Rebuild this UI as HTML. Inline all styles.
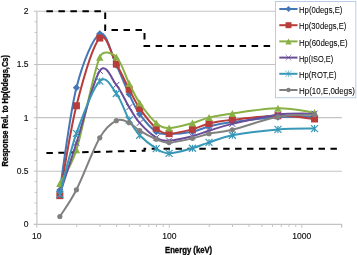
<!DOCTYPE html>
<html><head><meta charset="utf-8"><style>
html,body{margin:0;padding:0;background:#fff;}
body{width:357px;height:255px;overflow:hidden;position:relative;}
svg{position:absolute;left:0;top:0;will-change:transform;}
.s{font-family:"Liberation Serif",serif;font-size:9px;fill:#000;}
.a{font-family:"Liberation Sans",sans-serif;}
.n{font-family:"Liberation Sans",sans-serif;font-size:8.5px;fill:#111;stroke:#111;stroke-width:0.15px;}
</style></head><body>
<svg width="357" height="255" viewBox="0 0 357 255">
<rect width="357" height="255" fill="#fff"/>

<path d="M36.8,171.20H341.8" stroke="#C3C3C3" stroke-width="1.1"/>
<path d="M36.8,117.60H341.8" stroke="#C3C3C3" stroke-width="1.1"/>
<path d="M36.8,64.50H341.8" stroke="#C3C3C3" stroke-width="1.1"/>
<path d="M36.8,11.20H341.8" stroke="#C3C3C3" stroke-width="1.1"/>
<path d="M36.9,11.2V224.4" stroke="#C3C3C3" stroke-width="1.2"/>
<path d="M33.8,224.4H341.8" stroke="#C3C3C3" stroke-width="1.1"/>
<path d="M33.8,224.36H36.9 M34.6,213.70H36.9 M34.6,203.04H36.9 M34.6,192.38H36.9 M34.6,181.72H36.9 M33.8,171.06H36.9 M34.6,160.40H36.9 M34.6,149.74H36.9 M34.6,139.08H36.9 M34.6,128.42H36.9 M33.8,117.76H36.9 M34.6,107.10H36.9 M34.6,96.44H36.9 M34.6,85.78H36.9 M34.6,75.12H36.9 M33.8,64.46H36.9 M34.6,53.80H36.9 M34.6,43.14H36.9 M34.6,32.48H36.9 M34.6,21.82H36.9 M33.8,11.16H36.9 M36.80,224.4V227.8 M76.69,224.4V227.0 M100.02,224.4V227.0 M116.57,224.4V227.0 M129.41,224.4V227.0 M139.91,224.4V227.0 M148.78,224.4V227.0 M156.46,224.4V227.0 M163.24,224.4V227.0 M169.30,224.4V227.8 M209.19,224.4V227.0 M232.52,224.4V227.0 M249.07,224.4V227.0 M261.91,224.4V227.0 M272.41,224.4V227.0 M281.28,224.4V227.0 M288.96,224.4V227.0 M295.74,224.4V227.0 M301.80,224.4V227.8 M341.69,224.4V227.0 M341.69,224.4V227.8" stroke="#C3C3C3" stroke-width="1"/>
<text class="n" x="28.6" y="227.3" text-anchor="end">0</text>
<text class="n" x="28.6" y="174.1" text-anchor="end">0.5</text>
<text class="n" x="28.6" y="120.5" text-anchor="end">1</text>
<text class="n" x="28.6" y="67.4" text-anchor="end">1.5</text>
<text class="n" x="28.6" y="14.1" text-anchor="end">2</text>
<text class="n" x="36.8" y="239.2" text-anchor="middle">10</text>
<text class="n" x="169.3" y="239.2" text-anchor="middle">100</text>
<text class="n" x="301.8" y="239.2" text-anchor="middle">1000</text>
<path d="M46.4,11.2H105.2V30.1H144.5V46.0H300" stroke="#000" stroke-width="2" fill="none" stroke-dasharray="6.5,5.5"/>
<path d="M46.4,153.1L144.5,150.7V148.7H337" stroke="#000" stroke-width="2" fill="none" stroke-dasharray="6.45,5.47"/>
<path d="M59.85,190.00 C62.61,172.94 69.76,113.69 76.42,87.65 C83.07,61.61 93.11,37.51 99.77,33.77 C106.42,30.02 111.43,55.10 116.33,65.18 C121.24,75.26 125.29,86.11 129.18,94.26 C133.08,102.40 135.17,107.82 139.68,114.07 C144.19,120.31 151.35,128.43 156.25,131.75 C161.15,135.06 163.07,133.98 169.10,133.98 C175.13,133.98 185.80,133.01 192.45,131.75 C199.10,130.48 202.36,128.05 209.02,126.42 C215.67,124.79 220.88,123.49 232.37,121.95 C243.85,120.40 264.25,118.01 277.95,117.15 C291.64,116.30 308.45,116.89 314.55,116.84" stroke="#4377B7" stroke-width="2" fill="none"/>
<path d="M59.85,186.40L63.45,190.00L59.85,193.60L56.25,190.00Z" fill="#4377B7"/>
<path d="M76.42,84.05L80.02,87.65L76.42,91.25L72.82,87.65Z" fill="#4377B7"/>
<path d="M99.77,30.17L103.37,33.77L99.77,37.37L96.17,33.77Z" fill="#4377B7"/>
<path d="M116.33,61.58L119.93,65.18L116.33,68.78L112.73,65.18Z" fill="#4377B7"/>
<path d="M129.18,90.66L132.78,94.26L129.18,97.86L125.58,94.26Z" fill="#4377B7"/>
<path d="M139.68,110.47L143.28,114.07L139.68,117.67L136.08,114.07Z" fill="#4377B7"/>
<path d="M156.25,128.15L159.85,131.75L156.25,135.34L152.65,131.75Z" fill="#4377B7"/>
<path d="M169.10,130.38L172.70,133.98L169.10,137.58L165.50,133.98Z" fill="#4377B7"/>
<path d="M192.45,128.15L196.05,131.75L192.45,135.34L188.85,131.75Z" fill="#4377B7"/>
<path d="M209.02,122.82L212.62,126.42L209.02,130.02L205.42,126.42Z" fill="#4377B7"/>
<path d="M232.37,118.35L235.97,121.95L232.37,125.55L228.77,121.95Z" fill="#4377B7"/>
<path d="M277.95,113.55L281.55,117.15L277.95,120.75L274.35,117.15Z" fill="#4377B7"/>
<path d="M314.55,113.24L318.15,116.84L314.55,120.44L310.95,116.84Z" fill="#4377B7"/>
<path d="M59.85,195.65 C62.61,180.66 69.76,132.03 76.42,105.76 C83.07,79.49 93.11,44.97 99.77,38.03 C106.42,31.08 111.43,55.56 116.33,64.12 C121.24,72.67 125.29,81.99 129.18,89.36 C133.08,96.72 135.17,101.84 139.68,108.31 C144.19,114.79 151.35,124.02 156.25,128.23 C161.15,132.44 163.07,133.36 169.10,133.56 C175.13,133.75 185.80,131.09 192.45,129.40 C199.10,127.72 202.36,125.04 209.02,123.44 C215.67,121.84 220.88,121.10 232.37,119.82 C243.85,118.54 264.25,115.91 277.95,115.77 C291.64,115.63 308.45,118.43 314.55,118.97" stroke="#B83C3A" stroke-width="2" fill="none"/>
<rect x="56.35" y="192.15" width="7.00" height="7.00" fill="#B83C3A"/>
<rect x="72.92" y="102.26" width="7.00" height="7.00" fill="#B83C3A"/>
<rect x="96.27" y="34.53" width="7.00" height="7.00" fill="#B83C3A"/>
<rect x="112.83" y="60.62" width="7.00" height="7.00" fill="#B83C3A"/>
<rect x="125.68" y="85.86" width="7.00" height="7.00" fill="#B83C3A"/>
<rect x="136.18" y="104.81" width="7.00" height="7.00" fill="#B83C3A"/>
<rect x="152.75" y="124.73" width="7.00" height="7.00" fill="#B83C3A"/>
<rect x="165.60" y="130.06" width="7.00" height="7.00" fill="#B83C3A"/>
<rect x="188.95" y="125.90" width="7.00" height="7.00" fill="#B83C3A"/>
<rect x="205.52" y="119.94" width="7.00" height="7.00" fill="#B83C3A"/>
<rect x="228.87" y="116.32" width="7.00" height="7.00" fill="#B83C3A"/>
<rect x="274.45" y="112.27" width="7.00" height="7.00" fill="#B83C3A"/>
<rect x="311.05" y="115.47" width="7.00" height="7.00" fill="#B83C3A"/>
<path d="M59.85,183.40 C62.61,177.81 70.78,167.69 76.42,149.85 C83.07,128.82 93.11,72.69 99.77,57.19 C103.03,49.58 111.43,52.49 116.33,56.88 C121.24,61.26 125.29,75.81 129.18,83.50 C133.08,91.19 135.17,96.42 139.68,102.99 C144.19,109.56 151.35,118.73 156.25,122.91 C161.15,127.08 163.07,127.98 169.10,128.02 C175.13,128.05 185.80,124.86 192.45,123.12 C199.10,121.38 202.36,119.20 209.02,117.58 C215.67,115.97 220.88,114.99 232.37,113.43 C243.85,111.87 264.25,108.35 277.95,108.21 C291.64,108.07 308.45,111.85 314.55,112.58" stroke="#88B043" stroke-width="2" fill="none"/>
<path d="M59.85,179.90L63.55,186.90L56.15,186.90Z" fill="#88B043"/>
<path d="M76.42,146.35L80.12,153.35L72.72,153.35Z" fill="#88B043"/>
<path d="M99.77,53.69L103.47,60.69L96.07,60.69Z" fill="#88B043"/>
<path d="M116.33,53.38L120.03,60.38L112.63,60.38Z" fill="#88B043"/>
<path d="M129.18,80.00L132.88,87.00L125.48,87.00Z" fill="#88B043"/>
<path d="M139.68,99.49L143.38,106.49L135.98,106.49Z" fill="#88B043"/>
<path d="M156.25,119.41L159.95,126.41L152.55,126.41Z" fill="#88B043"/>
<path d="M169.10,124.52L172.80,131.52L165.40,131.52Z" fill="#88B043"/>
<path d="M192.45,119.62L196.15,126.62L188.75,126.62Z" fill="#88B043"/>
<path d="M209.02,114.08L212.72,121.08L205.32,121.08Z" fill="#88B043"/>
<path d="M232.37,109.93L236.07,116.93L228.67,116.93Z" fill="#88B043"/>
<path d="M277.95,104.71L281.65,111.71L274.25,111.71Z" fill="#88B043"/>
<path d="M314.55,109.08L318.25,116.08L310.85,116.08Z" fill="#88B043"/>
<path d="M59.85,194.05 C62.61,185.53 69.76,163.46 76.42,142.93 C83.07,122.39 93.11,80.50 99.77,70.83 C105.92,61.88 111.43,78.81 116.33,84.88 C121.24,90.96 125.29,100.91 129.18,107.25 C133.08,113.59 135.17,117.85 139.68,122.91 C144.19,127.96 151.35,134.66 156.25,137.60 C161.15,140.55 163.07,140.82 169.10,140.58 C175.13,140.35 185.80,137.87 192.45,136.22 C199.10,134.57 202.36,132.74 209.02,130.68 C215.67,128.62 220.88,126.53 232.37,123.86 C243.85,121.20 264.25,116.41 277.95,114.70 C291.64,113.00 308.45,113.82 314.55,113.64" stroke="#6A4C98" stroke-width="2" fill="none"/>
<path d="M56.85,191.05L62.85,197.05M56.85,197.05L62.85,191.05" stroke="#6A4C98" stroke-width="1"/>
<path d="M73.42,139.93L79.42,145.93M73.42,145.93L79.42,139.93" stroke="#6A4C98" stroke-width="1"/>
<path d="M96.77,67.83L102.77,73.83M96.77,73.83L102.77,67.83" stroke="#6A4C98" stroke-width="1"/>
<path d="M113.33,81.88L119.33,87.88M113.33,87.88L119.33,81.88" stroke="#6A4C98" stroke-width="1"/>
<path d="M126.18,104.25L132.18,110.25M126.18,110.25L132.18,104.25" stroke="#6A4C98" stroke-width="1"/>
<path d="M136.68,119.91L142.68,125.91M136.68,125.91L142.68,119.91" stroke="#6A4C98" stroke-width="1"/>
<path d="M153.25,134.60L159.25,140.60M153.25,140.60L159.25,134.60" stroke="#6A4C98" stroke-width="1"/>
<path d="M166.10,137.58L172.10,143.58M166.10,143.58L172.10,137.58" stroke="#6A4C98" stroke-width="1"/>
<path d="M189.45,133.22L195.45,139.22M189.45,139.22L195.45,133.22" stroke="#6A4C98" stroke-width="1"/>
<path d="M206.02,127.68L212.02,133.68M206.02,133.68L212.02,127.68" stroke="#6A4C98" stroke-width="1"/>
<path d="M229.37,120.86L235.37,126.86M229.37,126.86L235.37,120.86" stroke="#6A4C98" stroke-width="1"/>
<path d="M274.95,111.70L280.95,117.70M274.95,117.70L280.95,111.70" stroke="#6A4C98" stroke-width="1"/>
<path d="M311.55,110.64L317.55,116.64M311.55,116.64L317.55,110.64" stroke="#6A4C98" stroke-width="1"/>
<path d="M59.85,194.58 C62.61,184.39 69.76,152.35 76.42,133.45 C83.07,114.55 93.11,87.81 99.77,81.16 C106.42,74.50 111.43,87.03 116.33,93.51 C121.24,99.99 125.29,113.07 129.18,120.03 C133.08,126.99 135.17,130.50 139.68,135.26 C144.19,140.02 151.35,145.55 156.25,148.57 C161.15,151.59 163.07,153.42 169.10,153.36 C175.13,153.31 185.80,150.08 192.45,148.25 C199.10,146.42 202.36,144.56 209.02,142.40 C215.67,140.23 220.88,137.43 232.37,135.26 C243.85,133.09 264.25,130.52 277.95,129.40 C291.64,128.28 308.45,128.69 314.55,128.55" stroke="#3898B7" stroke-width="2" fill="none"/>
<path d="M56.35,191.08L63.35,198.08M56.35,198.08L63.35,191.08M59.85,191.08L59.85,198.08" stroke="#3898B7" stroke-width="1.2"/>
<path d="M72.92,129.95L79.92,136.95M72.92,136.95L79.92,129.95M76.42,129.95L76.42,136.95" stroke="#3898B7" stroke-width="1.2"/>
<path d="M96.27,77.66L103.27,84.66M96.27,84.66L103.27,77.66M99.77,77.66L99.77,84.66" stroke="#3898B7" stroke-width="1.2"/>
<path d="M112.83,90.01L119.83,97.01M112.83,97.01L119.83,90.01M116.33,90.01L116.33,97.01" stroke="#3898B7" stroke-width="1.2"/>
<path d="M125.68,116.53L132.68,123.53M125.68,123.53L132.68,116.53M129.18,116.53L129.18,123.53" stroke="#3898B7" stroke-width="1.2"/>
<path d="M136.18,131.76L143.18,138.76M136.18,138.76L143.18,131.76M139.68,131.76L139.68,138.76" stroke="#3898B7" stroke-width="1.2"/>
<path d="M152.75,145.07L159.75,152.07M152.75,152.07L159.75,145.07M156.25,145.07L156.25,152.07" stroke="#3898B7" stroke-width="1.2"/>
<path d="M165.60,149.86L172.60,156.86M165.60,156.86L172.60,149.86M169.10,149.86L169.10,156.86" stroke="#3898B7" stroke-width="1.2"/>
<path d="M188.95,144.75L195.95,151.75M188.95,151.75L195.95,144.75M192.45,144.75L192.45,151.75" stroke="#3898B7" stroke-width="1.2"/>
<path d="M205.52,138.90L212.52,145.90M205.52,145.90L212.52,138.90M209.02,138.90L209.02,145.90" stroke="#3898B7" stroke-width="1.2"/>
<path d="M228.87,131.76L235.87,138.76M228.87,138.76L235.87,131.76M232.37,131.76L232.37,138.76" stroke="#3898B7" stroke-width="1.2"/>
<path d="M274.45,125.90L281.45,132.90M274.45,132.90L281.45,125.90M277.95,125.90L277.95,132.90" stroke="#3898B7" stroke-width="1.2"/>
<path d="M311.05,125.05L318.05,132.05M311.05,132.05L318.05,125.05M314.55,125.05L314.55,132.05" stroke="#3898B7" stroke-width="1.2"/>
<path d="M59.85,216.52 C62.61,212.06 69.76,202.90 76.42,189.79 C83.07,176.67 93.11,149.34 99.77,137.82 C105.73,127.49 111.43,123.19 116.33,120.67 C121.24,118.15 125.29,121.02 129.18,122.69 C133.08,124.36 135.17,127.93 139.68,130.68 C144.19,133.43 151.35,137.21 156.25,139.20 C161.15,141.19 163.07,142.75 169.10,142.61 C175.13,142.47 185.80,139.82 192.45,138.35 C199.10,136.87 202.36,135.19 209.02,133.77 C215.67,132.35 220.88,132.65 232.37,129.83 C243.85,127.01 264.25,119.36 277.95,116.84 C291.64,114.31 308.45,115.06 314.55,114.70" stroke="#808080" stroke-width="2" fill="none"/>
<circle cx="59.85" cy="216.52" r="2.60" fill="#808080"/>
<circle cx="76.42" cy="189.79" r="2.60" fill="#808080"/>
<circle cx="99.77" cy="137.82" r="2.60" fill="#808080"/>
<circle cx="116.33" cy="120.67" r="2.60" fill="#808080"/>
<circle cx="129.18" cy="122.69" r="2.60" fill="#808080"/>
<circle cx="139.68" cy="130.68" r="2.60" fill="#808080"/>
<circle cx="156.25" cy="139.20" r="2.60" fill="#808080"/>
<circle cx="169.10" cy="142.61" r="2.60" fill="#808080"/>
<circle cx="192.45" cy="138.35" r="2.60" fill="#808080"/>
<circle cx="209.02" cy="133.77" r="2.60" fill="#808080"/>
<circle cx="232.37" cy="129.83" r="2.60" fill="#808080"/>
<circle cx="277.95" cy="116.84" r="2.60" fill="#808080"/>
<circle cx="314.55" cy="114.70" r="2.60" fill="#808080"/>
<rect x="275.5" y="1.5" width="80.3" height="96.2" fill="#fff" stroke="#B9CDE5" stroke-width="1"/>
<path d="M279.3,9.0H297.5" stroke="#4377B7" stroke-width="2"/>
<path d="M288.50,5.94L291.56,9.00L288.50,12.06L285.44,9.00Z" fill="#4377B7"/>
<text class="a" x="299" y="13.1" font-size="9.2" stroke="#000" stroke-width="0.05" textLength="43.4" lengthAdjust="spacingAndGlyphs" fill="#000">Hp(0degs,E)</text>
<path d="M279.3,25.2H297.5" stroke="#B83C3A" stroke-width="2"/>
<rect x="285.52" y="22.22" width="5.95" height="5.95" fill="#B83C3A"/>
<text class="a" x="299" y="29.3" font-size="9.2" stroke="#000" stroke-width="0.05" textLength="47.3" lengthAdjust="spacingAndGlyphs" fill="#000">Hp(30degs,E)</text>
<path d="M279.3,41.4H297.5" stroke="#88B043" stroke-width="2"/>
<path d="M288.50,38.42L291.64,44.38L285.36,44.38Z" fill="#88B043"/>
<text class="a" x="299" y="45.5" font-size="9.2" stroke="#000" stroke-width="0.05" textLength="48.6" lengthAdjust="spacingAndGlyphs" fill="#000">Hp(60degs,E)</text>
<path d="M279.3,57.6H297.5" stroke="#6A4C98" stroke-width="2"/>
<path d="M285.65,54.75L291.35,60.45M285.65,60.45L291.35,54.75" stroke="#6A4C98" stroke-width="0.8" opacity="0.75"/>
<text class="a" x="299" y="61.7" font-size="9.2" stroke="#000" stroke-width="0.05" textLength="34.3" lengthAdjust="spacingAndGlyphs" fill="#000">Hp(ISO,E)</text>
<path d="M279.3,73.8H297.5" stroke="#3898B7" stroke-width="2"/>
<path d="M285.18,70.47L291.82,77.12M285.18,77.12L291.82,70.47M288.50,70.47L288.50,77.12" stroke="#3898B7" stroke-width="0.8" opacity="0.75"/>
<text class="a" x="299" y="77.9" font-size="9.2" stroke="#000" stroke-width="0.05" textLength="37.5" lengthAdjust="spacingAndGlyphs" fill="#000">Hp(ROT,E)</text>
<path d="M279.3,90.0H297.5" stroke="#808080" stroke-width="2"/>
<circle cx="288.50" cy="90.00" r="2.21" fill="#808080"/>
<text class="a" x="299" y="94.1" font-size="9.2" stroke="#000" stroke-width="0.05" textLength="55.8" lengthAdjust="spacingAndGlyphs" fill="#000">Hp(10,E,0degs)</text>
<text class="a" x="165" y="252.8" font-size="8.6" font-weight="bold" stroke="#000" stroke-width="0.3" textLength="47.2" lengthAdjust="spacingAndGlyphs">Energy (keV)</text>
<text class="a" transform="translate(7.8,166.4) rotate(-90)" x="0" y="0" font-size="8.3" font-weight="bold" stroke="#000" stroke-width="0.3" textLength="111.4" lengthAdjust="spacingAndGlyphs">Response Rel. to Hp(0degs,Cs)</text>
</svg></body></html>
